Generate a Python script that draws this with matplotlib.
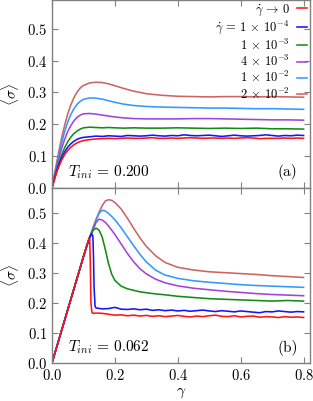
import matplotlib
matplotlib.use("Agg")
import matplotlib.pyplot as plt


# Fonts: Computer Modern look

plt.rcParams["font.family"] = "serif"
plt.rcParams["font.serif"] = ["cmr10"]
plt.rcParams["mathtext.fontset"] = "cm"
plt.rcParams["axes.formatter.use_mathtext"] = True


# Legend labels and colours (same order in both panels)

labels = [
    r"$\dot\gamma \,\to\, 0$",
    r"$\dot\gamma \,=\, 1\,\times\,10^{-4}$",
    r"$1\,\times\,10^{-3}$",
    r"$4\,\times\,10^{-3}$",
    r"$1\,\times\,10^{-2}$",
    r"$2\,\times\,10^{-2}$",
]

colors = ["#ff1414", "#1414ff", "#148c14", "#a044dc", "#3399ff", "#cc6464"]


# Panel (a): T_ini = 0.200

gamma_a = [0.00, 0.01, 0.02, 0.03, 0.04, 0.05, 0.06, 0.07, 0.08, 0.09,
           0.10, 0.12, 0.14, 0.16, 0.18, 0.20, 0.23, 0.26, 0.30, 0.35,
           0.40, 0.45, 0.50, 0.55, 0.60, 0.65, 0.70, 0.75, 0.80]

green_a = [0, .038, .073, .102, .126, .145, .160, .171, .179, .185,
           .189, .191, .190, .189, .190, .189, .188, .189, .188, .188,
           .189, .188, .187, .188, .187, .188, .186, .186, .185]

purple_a = [0, .045, .086, .122, .152, .177, .196, .211, .222, .229,
            .233, .234, .232, .229, .226, .223, .220, .218, .217, .217,
            .217, .218, .218, .217, .216, .215, .214, .214, .213]

lightblue_a = [0, .049, .096, .139, .176, .207, .231, .249, .263, .272,
               .278, .283, .282, .279, .274, .269, .263, .259, .256, .254,
               .253, .252, .251, .251, .250, .249, .249, .248, .247]

indianred_a = [0, .054, .106, .154, .196, .232, .261, .284, .301, .314,
               .322, .330, .332, .331, .327, .321, .312, .304, .296, .291,
               .288, .287, .286, .287, .287, .286, .287, .286, .285]

# noisy slow-rate curves on their own grid
gamma_noise_a = [0.00, 0.01, 0.02, 0.03, 0.04, 0.05, 0.06, 0.07, 0.08, 0.09,
                 0.10, 0.12, 0.14, 0.16, 0.18, 0.20, 0.22, 0.24, 0.26, 0.28,
                 0.30, 0.32, 0.34, 0.36, 0.38, 0.40, 0.42, 0.44, 0.46, 0.48,
                 0.50, 0.52, 0.54, 0.56, 0.58, 0.60, 0.62, 0.64, 0.66, 0.68,
                 0.70, 0.72, 0.74, 0.76, 0.78, 0.80]

red_a = [0, .034, .063, .086, .104, .118, .128, .136, .142, .146,
         .149, .152, .154, .155, .156, .155, .156, .157, .156, .156,
         .157, .158, .156, .156, .157, .156, .157, .158, .157, .156,
         .157, .157, .156, .157, .156, .157, .158, .157, .155, .156,
         .156, .156, .157, .156, .157, .156]

blue_a = [0, .036, .068, .093, .113, .128, .139, .147, .153, .157,
          .159, .161, .163, .162, .164, .163, .162, .165, .164, .163,
          .164, .166, .164, .163, .165, .164, .167, .165, .164, .165,
          .166, .164, .162, .164, .166, .164, .163, .164, .165, .167,
          .165, .163, .165, .164, .166, .165]


# Panel (b): T_ini = 0.062

gamma_b = [0.00, 0.04, 0.08, 0.10, 0.11, 0.12, 0.13, 0.14, 0.15, 0.16,
           0.17, 0.18, 0.19, 0.20, 0.22, 0.24, 0.26, 0.28, 0.30, 0.33,
           0.36, 0.40, 0.45, 0.50, 0.55, 0.60, 0.65, 0.70, 0.75, 0.80]

green_b = [0, .142, .284, .355, .389, .420, .443, .451, .444, .420,
           .378, .332, .297, .276, .257, .248, .243, .238, .235, .231,
           .228, .223, .219, .215, .213, .211, .209, .207, .209, .207]

purple_b = [0, .142, .284, .355, .389, .418, .444, .470, .481, .478,
            .470, .458, .444, .430, .398, .366, .338, .315, .298, .280,
            .268, .258, .250, .245, .240, .236, .232, .229, .227, .225]

lightblue_b = [0, .142, .284, .355, .390, .420, .448, .476, .501, .511,
               .508, .500, .490, .479, .452, .422, .392, .363, .338, .310,
               .294, .283, .275, .270, .266, .262, .259, .257, .255, .253]

indianred_b = [0, .142, .284, .355, .390, .422, .452, .480, .505, .527,
               .542, .546, .544, .537, .515, .484, .450, .418, .390, .358,
               .336, .320, .311, .305, .302, .299, .296, .292, .289, .286]

gamma_red_b = [0.00, 0.04, 0.08, 0.10, 0.110, 0.118, 0.120, 0.122, 0.124,
               0.127, 0.130, 0.14, 0.16, 0.18, 0.20, 0.22, 0.24, 0.26,
               0.28, 0.30, 0.32, 0.34, 0.36, 0.38, 0.40, 0.42, 0.44, 0.46,
               0.48, 0.50, 0.52, 0.54, 0.56, 0.58, 0.60, 0.62, 0.64, 0.66,
               0.68, 0.70, 0.72, 0.74, 0.76, 0.78, 0.80]

red_b = [0, .142, .284, .355, .390, .418, .415, .330, .200,
         .170, .166, .167, .166, .163, .160, .161, .158, .160,
         .157, .159, .156, .158, .155, .157, .159, .156, .154, .157,
         .155, .158, .160, .156, .155, .158, .154, .156, .157, .153,
         .155, .154, .152, .155, .153, .154, .152]

gamma_blue_b = [0.00, 0.04, 0.08, 0.10, 0.11, 0.12, 0.126, 0.130, 0.132,
                0.134, 0.137, 0.140, 0.16, 0.18, 0.20, 0.22, 0.24, 0.26,
                0.28, 0.30, 0.32, 0.34, 0.36, 0.38, 0.40, 0.42, 0.44, 0.46,
                0.48, 0.50, 0.52, 0.54, 0.56, 0.58, 0.60, 0.62, 0.64, 0.66,
                0.68, 0.70, 0.72, 0.74, 0.76, 0.78, 0.80]

blue_b = [0, .142, .284, .355, .389, .420, .432, .425, .360,
          .250, .190, .184, .181, .182, .186, .180, .179, .181,
          .178, .180, .176, .178, .175, .177, .174, .176, .173, .175,
          .177, .174, .172, .175, .173, .171, .174, .172, .170, .168,
          .172, .171, .174, .172, .170, .172, .171]


# Figure

fig = plt.figure(figsize=(3.13, 4.01), dpi=100)

ax_a = fig.add_axes([0.166, 0.531, 0.824, 0.469])
ax_b = fig.add_axes([0.166, 0.0948, 0.824, 0.4362])

lw = 1.15

curves_a = [
    (gamma_noise_a, red_a),
    (gamma_noise_a, blue_a),
    (gamma_a, green_a),
    (gamma_a, purple_a),
    (gamma_a, lightblue_a),
    (gamma_a, indianred_a),
]

curves_b = [
    (gamma_red_b, red_b),
    (gamma_blue_b, blue_b),
    (gamma_b, green_b),
    (gamma_b, purple_b),
    (gamma_b, lightblue_b),
    (gamma_b, indianred_b),
]

# draw fastest rates first so the slow ones sit on top
for i in reversed(range(6)):
    ax_a.plot(*curves_a[i], color=colors[i], lw=lw, label=labels[i])
    ax_b.plot(*curves_b[i], color=colors[i], lw=lw)

spine_color = "#808080"

for ax in (ax_a, ax_b):
    ax.set_xlim(0.0, 0.82)
    ax.set_xticks([0.0, 0.2, 0.4, 0.6, 0.8])
    ax.set_yticks([0.0, 0.1, 0.2, 0.3, 0.4, 0.5])
    ax.tick_params(direction="in", top=True, right=True, length=4,
                   color=spine_color, labelsize=10.5)
    for s in ax.spines.values():
        s.set_color(spine_color)
        s.set_linewidth(1.0)
    ax.set_ylabel(r"$\langle\sigma\rangle$", fontsize=11, labelpad=4)

ax_a.set_ylim(0.0, 0.59)
ax_b.set_ylim(0.0, 0.585)
ax_a.tick_params(labelbottom=False)

ax_b.set_xlabel(r"$\gamma$", fontsize=11, labelpad=2)

ax_a.text(0.05, 0.05, r"$T_{ini}\,=\,0.200$", fontsize=11, va="center")
ax_b.text(0.05, 0.053, r"$T_{ini}\,=\,0.062$", fontsize=11, va="center")
ax_a.text(0.75, 0.05, "(a)", fontsize=11, va="center", ha="center")
ax_b.text(0.75, 0.05, "(b)", fontsize=11, va="center", ha="center")

handles, leg_labels = ax_a.get_legend_handles_labels()
ax_a.legend(
    handles[::-1],
    leg_labels[::-1],
    loc="upper right",
    frameon=False,
    markerfirst=False,
    fontsize=9,
    handlelength=0.8,
    handletextpad=0.6,
    labelspacing=0.1,
    borderaxespad=0.1,
    borderpad=0.1,
)

fig.savefig("out.png", dpi=100)
